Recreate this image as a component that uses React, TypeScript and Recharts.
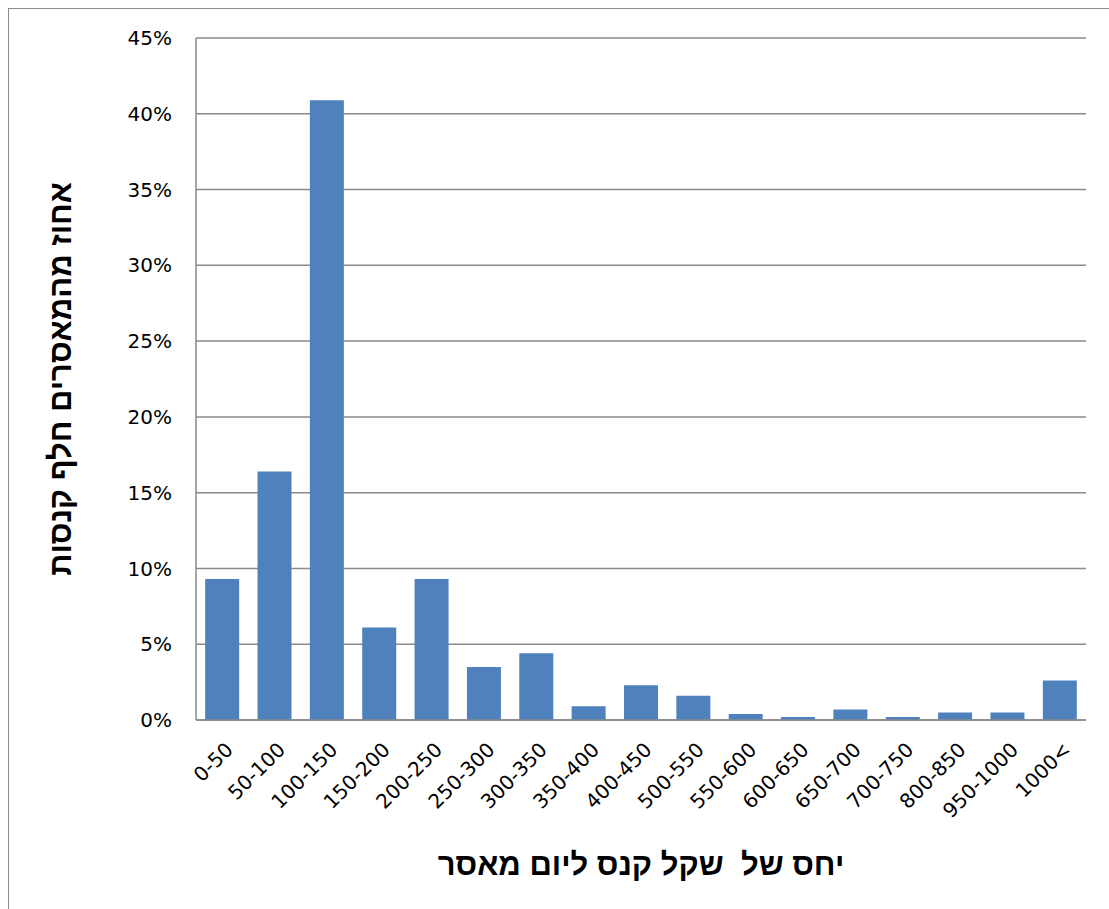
import { Bar, BarChart, CartesianGrid, XAxis, YAxis } from "recharts";

const ranges = [
  "0-50", "50-100", "100-150", "150-200", "200-250", "250-300", "300-350", "350-400",
  "400-450", "500-550", "550-600", "600-650", "650-700", "700-750", "800-850", "950-1000", "1000<",
];
const shares = [9.3, 16.4, 40.9, 6.1, 9.3, 3.5, 4.4, 0.9, 2.3, 1.6, 0.4, 0.2, 0.7, 0.2, 0.5, 0.5, 2.6];
const yTicks = [0, 5, 10, 15, 20, 25, 30, 35, 40, 45];

const data = ranges.map((range, i) => ({ range, share: shares[i] }));

const tickFont = "'DejaVu Sans', sans-serif";
const titleFont = "'Liberation Sans', Arial, sans-serif";

const XTick = (props: any) => {
  const { x, y, payload } = props;
  const tx = x + 7;
  const ty = y + 26;
  return (
    <text
      x={tx}
      y={ty}
      dy="0.35em"
      textAnchor="end"
      direction="ltr"
      transform={`rotate(-45, ${tx}, ${ty})`}
      fontSize={20}
      fontFamily={tickFont}
      fill="#000"
    >
      {payload.value}
    </text>
  );
};

export default function App() {
  return (
    <div style={{ position: "fixed", left: 8, top: 8, width: 1101, height: 901, overflow: "hidden" }}>
      <div style={{ width: 1120, height: 920, border: "1px solid #8c8c8c", background: "#fff" }}>
        <BarChart
          width={1100}
          height={900}
          data={data}
          margin={{ top: 29, right: 23, left: 0, bottom: 0 }}
          barCategoryGap="17.5%"
        >
          <CartesianGrid vertical={false} stroke="#8a8a8a" strokeWidth={1.5} />
          <XAxis
            dataKey="range"
            height={189}
            interval={0}
            tickLine={false}
            tickSize={0}
            tickMargin={0}
            axisLine={{ stroke: "#8a8a8a", strokeWidth: 1.5 }}
            tick={<XTick />}
            label={{
              // non-breaking space keeps the double gap from the original title
              value: "יחס של\u00A0 שקל קנס ליום מאסר",
              position: "insideBottom",
              offset: 34,
              style: { fontSize: 31, fontWeight: "bold", fontFamily: titleFont, fill: "#000" },
            }}
          />
          <YAxis
            width={187}
            domain={[0, 45]}
            ticks={yTicks}
            tickFormatter={(v) => `${v}%`}
            tickLine={false}
            tickSize={0}
            tickMargin={24}
            axisLine={{ stroke: "#8a8a8a", strokeWidth: 1.5 }}
            tick={{ fontSize: 20, fontFamily: tickFont, fill: "#000" }}
            label={{
              value: "אחוז מהמאסרים חלף קנסות",
              angle: -90,
              position: "insideLeft",
              offset: 51,
              style: { textAnchor: "middle", fontSize: 31, fontWeight: "bold", fontFamily: titleFont, fill: "#000" },
            }}
          />
          <Bar dataKey="share" fill="#4f81bd" isAnimationActive={false} />
        </BarChart>
      </div>
    </div>
  );
}
